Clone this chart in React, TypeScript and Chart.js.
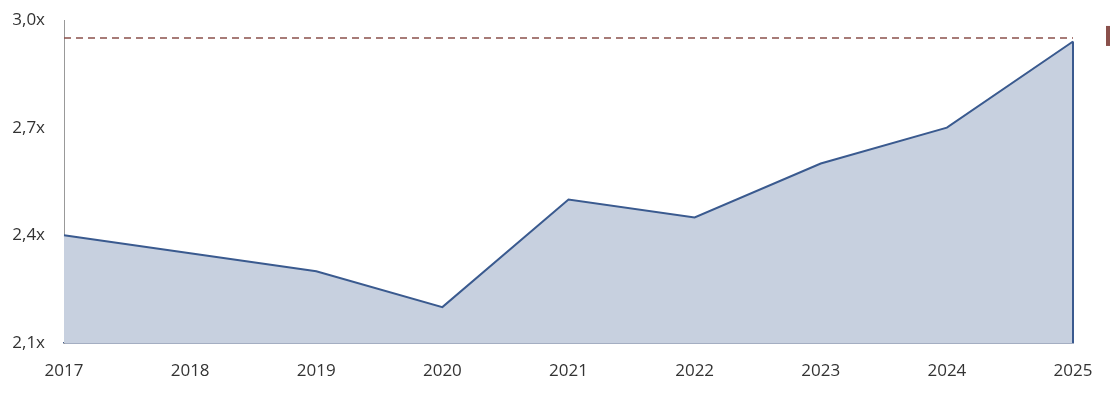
import { useEffect, useRef } from "react"
import { Chart, registerables } from "chart.js"

Chart.register(...registerables)

const years = [2017, 2018, 2019, 2020, 2021, 2022, 2023, 2024, 2025]
const multiples = [2.4, 2.35, 2.3, 2.2, 2.5, 2.45, 2.6, 2.7, 2.94]
const targetLevel = 2.95
const yTicks = [2.1, 2.4, 2.7, 3.0]

const LINE = "#3a5a8f"
const FILL = "#c7d0df"
const DASH = "#8a504b"

// small red marker right of the dashed line end
const markerPlugin = {
  id: "marker",
  afterDraw(chart: Chart) {
    const { ctx, chartArea, scales } = chart
    const y = scales.y.getPixelForValue(targetLevel)
    ctx.save()
    ctx.fillStyle = DASH
    ctx.fillRect(chartArea.right + 33, y - 12, 4, 20)
    ctx.restore()
  },
}

export default function App() {
  const chartRef = useRef<HTMLCanvasElement | null>(null)
  const chartInstance = useRef<Chart | null>(null)

  useEffect(() => {
    if (!chartRef.current) return
    if (chartInstance.current) chartInstance.current.destroy()

    const points = years.map((x, i) => ({ x, y: multiples[i] }))
    const last = points[points.length - 1]
    const closing = [last, { x: last.x, y: yTicks[0] }]
    const target = [
      { x: years[0], y: targetLevel },
      { x: years[years.length - 1], y: targetLevel },
    ]

    const ctx = chartRef.current.getContext("2d")
    if (!ctx) return
    chartInstance.current = new Chart(ctx, {
      type: "line",
      data: {
        datasets: [
          {
            data: target,
            borderColor: DASH,
            borderWidth: 1.6,
            borderDash: [7, 5],
            pointRadius: 0,
            fill: false,
          },
          {
            // right edge of the area, drawn above the fill
            data: closing,
            borderColor: LINE,
            borderWidth: 2,
            pointRadius: 0,
            fill: false,
            clip: false,
          },
          {
            data: points,
            borderColor: LINE,
            backgroundColor: FILL,
            borderWidth: 2,
            pointRadius: 0,
            fill: "start",
            tension: 0,
            clip: false,
          },
        ],
      },
      options: {
        animation: false,
        responsive: true,
        maintainAspectRatio: false,
        layout: { padding: { top: 20, right: 37, left: 0, bottom: 0 } },
        plugins: { legend: { display: false }, tooltip: { enabled: false } },
        scales: {
          x: {
            type: "linear",
            min: years[0],
            max: years[years.length - 1],
            afterFit: (s: any) => {
              s.height = 61
              s.paddingLeft = 0
              s.paddingRight = 0
            },
            afterBuildTicks: (s: any) => {
              s.ticks = years.map((v) => ({ value: v }))
            },
            grid: { display: false, drawTicks: false },
            border: { display: true, color: "#4a5f86", width: 1.5 },
            ticks: {
              padding: 18,
              color: "#333",
              font: { family: "'Open Sans'", size: 17 },
              callback: (v: any) => String(v),
            },
          },
          y: {
            min: yTicks[0],
            max: yTicks[yTicks.length - 1],
            afterFit: (s: any) => {
              s.width = 64
              s.paddingTop = 0
              s.paddingBottom = 0
            },
            afterBuildTicks: (s: any) => {
              s.ticks = yTicks.map((v) => ({ value: v }))
            },
            grid: { display: false, drawTicks: false },
            border: { display: true, color: "#999", width: 1 },
            ticks: {
              padding: 19,
              color: "#333",
              font: { family: "'Open Sans'", size: 17 },
              callback: (v: any) => Number(v).toFixed(1).replace(".", ",") + "x",
            },
          },
        },
      },
      plugins: [markerPlugin],
    })

    return () => {
      if (chartInstance.current) chartInstance.current.destroy()
    }
  }, [])

  return (
    <div style={{ position: "absolute", left: 0, top: 0, width: 1110, height: 404, background: "#fff" }}>
      <canvas ref={chartRef}></canvas>
    </div>
  )
}
